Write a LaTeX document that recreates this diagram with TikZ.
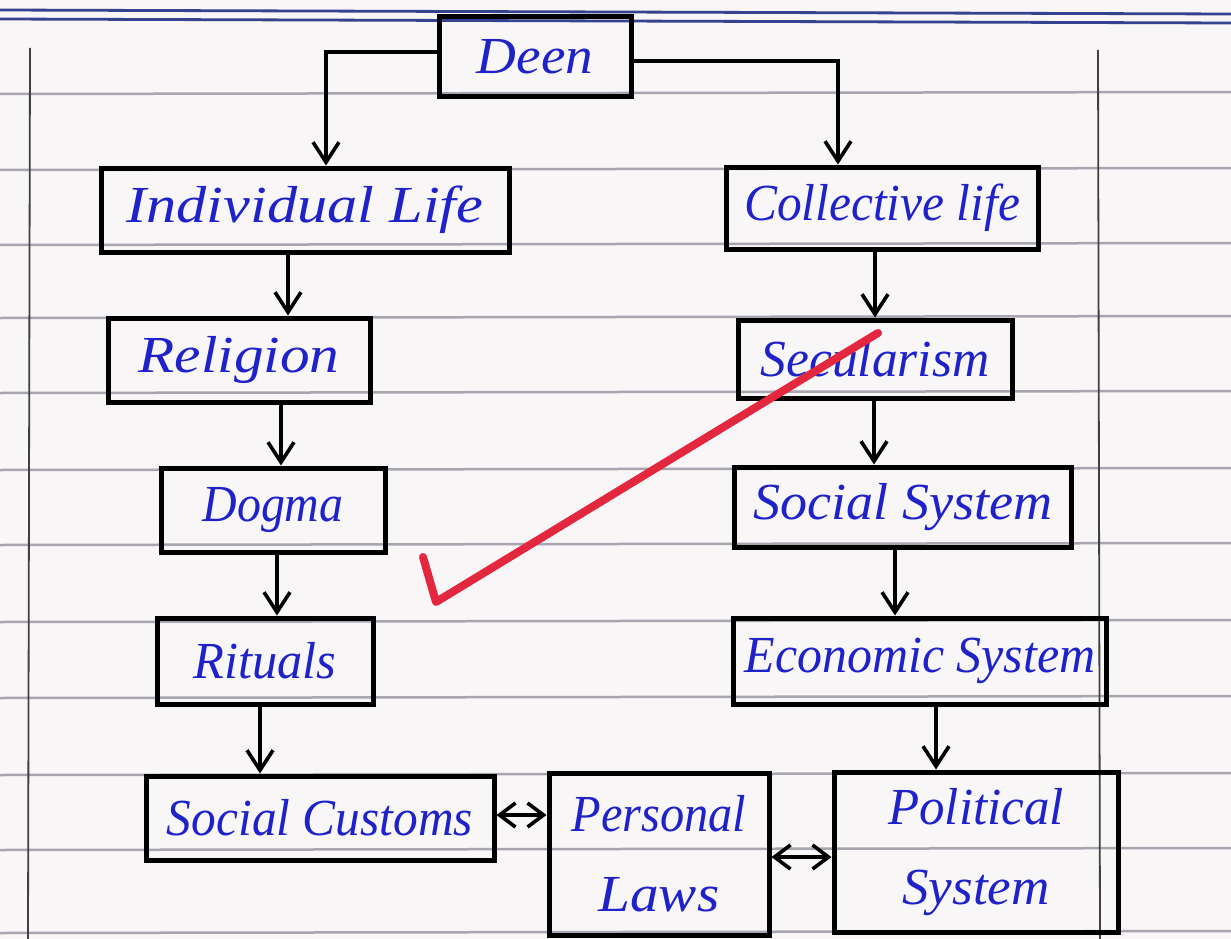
\documentclass[tikz,border=0pt]{standalone}
\usepackage{fontspec}
\usepackage{graphicx}
\setmainfont{Liberation Serif}
\usetikzlibrary{arrows.meta}
\definecolor{paper}{HTML}{F8F6F6}
\definecolor{ruling}{HTML}{A8A4B0}
\definecolor{topline}{HTML}{34428F}
\definecolor{ink}{HTML}{1E22C8}
\definecolor{checkred}{HTML}{E2273F}
\newcommand{\sx}[2]{\scalebox{#1}[1]{#2}}
\tikzset{
  box/.style={draw=black, line width=5pt, inner sep=0pt, text=ink,
    font=\fontsize{52}{80}\selectfont\itshape, align=center},
  arr/.style={draw=black, line width=3.6pt,
    -{Straight Barb[length=20pt,width=26pt,line width=3.6pt]}},
  biarr/.style={draw=black, line width=4.2pt,
    {Straight Barb[length=16pt,width=24pt,line width=3.6pt]}-{Straight Barb[length=16pt,width=24pt,line width=3.6pt]}},
  rule/.style={draw=ruling, line width=2.5pt},
  margin/.style={draw=black!75, line width=1.8pt},
}
\begin{document}
\begin{tikzpicture}[x=1pt,y=-1pt]
\useasboundingbox (0,0) rectangle (1231,939);
\fill[paper] (0,0) rectangle (1231,939);
% ruled paper
\foreach \yy in {94,170,245,318,393,470,545,622,698,775,850,933}
  \draw[rule] (0,\yy) -- (1231,\yy-2);
\draw[topline, line width=2.8pt] (0,10) -- (1231,14);
\draw[topline, line width=2.8pt] (0,19) -- (1231,23);
\draw[margin] (30,48) -- (28,939);
\draw[margin] (1098,50) -- (1100,939);
% boxes
\node[box, minimum width=192pt, minimum height=80pt] (deen) at (535,57) {\sx{1.06}{Deen}};
\node[box, minimum width=408pt, minimum height=84pt] (indiv) at (305,210) {\sx{1.16}{Individual Life}};
\node[box, minimum width=312pt, minimum height=82pt] (coll) at (882,208) {\sx{0.95}{Collective life}};
\node[box, minimum width=262pt, minimum height=84pt] (rel) at (239,360) {\sx{1.14}{Religion}};
\node[box, minimum width=274pt, minimum height=78pt] (sec) at (875,359) {\sx{0.99}{Secularism}};
\node[box, minimum width=224pt, minimum height=84pt] (dogma) at (273,510) {\sx{0.92}{Dogma}};
\node[box, minimum width=337pt, minimum height=80pt] (social) at (903,507) {\sx{1.04}{Social System}};
\node[box, minimum width=216pt, minimum height=86pt] (rituals) at (265,661) {\sx{0.97}{Rituals}};
\node[box, minimum width=373pt, minimum height=86pt] (econ) at (920,661) {\sx{0.96}{Economic System}};
\node[box, minimum width=348pt, minimum height=84pt] (customs) at (320,818) {\sx{0.95}{Social Customs}};
\node[box, minimum width=220pt, minimum height=162pt] (personal) at (659,854) {\rule{0pt}{14pt}\sx{0.93}{Personal}\\\sx{1.10}{Laws}};
\node[box, minimum width=284pt, minimum height=160pt] (political) at (976,852) {\rule{0pt}{30pt}\sx{0.98}{Political}\\\sx{1.02}{System}};
% connectors
\draw[arr] ([yshift=5pt]deen.west) -| ([xshift=21pt]indiv.north);
\draw[arr] ([yshift=-4pt]deen.east) -| ([xshift=-44pt]coll.north);
\draw[arr] ([xshift=-17pt]indiv.south) -- ([xshift=49pt]rel.north);
\draw[arr] ([xshift=-7pt]coll.south) -- ([xshift=0pt]sec.north);
\draw[arr] ([xshift=42pt]rel.south) -- ([xshift=8pt]dogma.north);
\draw[arr] ([xshift=-1pt]sec.south) -- ([xshift=-29pt]social.north);
\draw[arr] ([xshift=4pt]dogma.south) -- ([xshift=12pt]rituals.north);
\draw[arr] ([xshift=-8pt]social.south) -- ([xshift=-25pt]econ.north);
\draw[arr] ([xshift=-5pt]rituals.south) -- ([xshift=-60pt]customs.north);
\draw[arr] ([xshift=16pt]econ.south) -- ([xshift=-40pt]political.north);
\draw[biarr] ([yshift=3pt]customs.east) -- ([yshift=39pt]personal.west);
\draw[biarr] ([yshift=-3pt]personal.east) -- ([yshift=-5pt]political.west);
% red tick mark
\draw[checkred, line width=8pt, line cap=round, line join=round]
  (878,333) -- (436,602) -- (423,557);
\end{tikzpicture}
\end{document}
